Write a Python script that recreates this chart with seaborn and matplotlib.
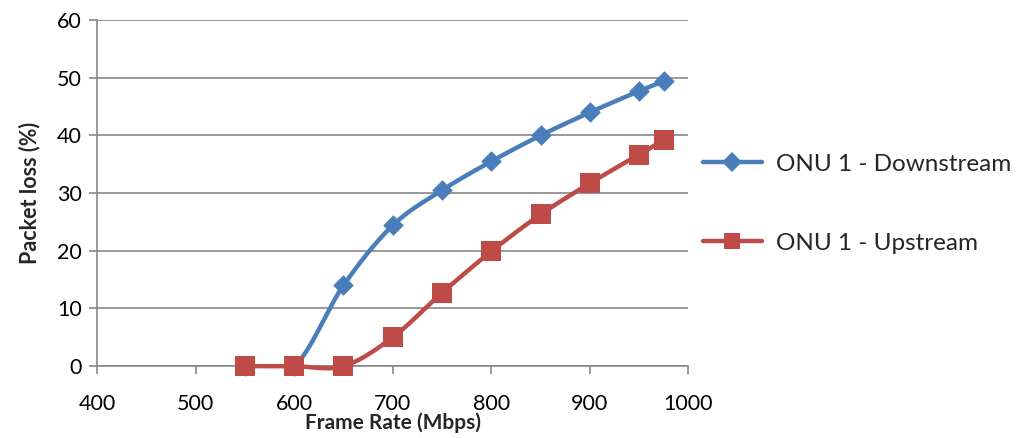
import numpy as np
import pandas as pd
import matplotlib
matplotlib.use("Agg")
import matplotlib.pyplot as plt
from matplotlib.lines import Line2D
import seaborn as sns

frame_rate = [550, 600, 650, 700, 750, 800, 850, 900, 950, 975]
downstream = [0, 0, 14.0, 24.4, 30.5, 35.5, 40.0, 44.0, 47.7, 49.4]
upstream = [0, 0, 0, 5.0, 12.7, 19.9, 26.3, 31.7, 36.7, 39.2]
series_names = ["ONU 1 - Downstream", "ONU 1 - Upstream"]
x_ticks = [400, 500, 600, 700, 800, 900, 1000]
y_ticks = [0, 10, 20, 30, 40, 50, 60]


def smooth(x, y, n=30):
    """Excel-like smoothed line (Bezier through points, Catmull-Rom tangents)."""
    x = np.asarray(x, float)
    y = np.asarray(y, float)
    px = np.concatenate([[x[0]], x, [x[-1]]])
    py = np.concatenate([[y[0]], y, [y[-1]]])
    xs, ys = [], []
    t = np.linspace(0, 1, n)
    for i in range(len(x) - 1):
        p0 = np.array([px[i + 1], py[i + 1]])
        p3 = np.array([px[i + 2], py[i + 2]])
        p1 = p0 + (np.array([px[i + 2], py[i + 2]]) - np.array([px[i], py[i]])) / 6
        p2 = p3 - (np.array([px[i + 3], py[i + 3]]) - np.array([px[i + 1], py[i + 1]])) / 6
        b = ((1 - t) ** 3)[:, None] * p0 + (3 * (1 - t) ** 2 * t)[:, None] * p1 \
            + (3 * (1 - t) * t ** 2)[:, None] * p2 + (t ** 3)[:, None] * p3
        xs.extend(b[:, 0])
        ys.extend(b[:, 1])
    return np.array(xs), np.array(ys)


sns.set_theme(style="white")
plt.rcParams['font.family'] = ['Lato', 'DejaVu Sans']

blue = "#4A7EBB"
red = "#BE4B48"

fig = plt.figure(figsize=(10.32, 4.38), dpi=100)
ax = fig.add_axes([0.094, 0.164, 0.573, 0.790])

for name, vals, col, mk, ms, z in [
    (series_names[0], downstream, blue, "D", 10.5, 3),
    (series_names[1], upstream, red, "s", 14, 5),
]:
    sx, sy = smooth(frame_rate, vals)
    if name == series_names[0]:
        # blue curve visibly starts at 600
        keep = sx >= 600
        sx, sy = sx[keep], sy[keep]
    d = pd.DataFrame({"x": sx, "y": sy})
    sns.lineplot(data=d, x="x", y="y", ax=ax, color=col, linewidth=3.2,
                 sort=False, estimator=None, zorder=z)
    pts = pd.DataFrame({"x": frame_rate, "y": vals})
    sns.scatterplot(data=pts, x="x", y="y", ax=ax, color=col, marker=mk,
                    s=ms ** 2, linewidth=0, zorder=z + 1)
for coll in ax.collections:
    coll.set_clip_on(False)
for ln in ax.lines:
    ln.set_clip_on(False)

ax.set_xlim(400, 1000)
ax.set_ylim(0, 60)
ax.set_xticks(x_ticks)
ax.set_yticks(y_ticks)
ax.yaxis.grid(True, color="#888888", linewidth=1.2)
ax.xaxis.grid(False)
ax.set_axisbelow(True)
for s in ["top", "right"]:
    ax.spines[s].set_visible(False)
for s in ["left", "bottom"]:
    ax.spines[s].set_color("#888888")
    ax.spines[s].set_linewidth(1.2)
    ax.spines[s].set_zorder(0.5)
ax.tick_params(axis="both", which="major", direction="out", length=6,
               width=1.2, color="#888888", labelsize=15.5, labelcolor="black",
               bottom=True, left=True, pad=5)
ax.tick_params(axis="x", pad=14)
ax.set_xlabel("Frame Rate (Mbps)", fontsize=15, fontweight="bold", labelpad=-1)
ax.set_ylabel("Packet loss (%)", fontsize=15.5, fontweight="bold", labelpad=12)

handles = [
    Line2D([0], [0], color=blue, lw=3.2, marker="D", markersize=10, markeredgewidth=0),
    Line2D([0], [0], color=red, lw=3.2, marker="s", markersize=12, markeredgewidth=0),
]
fig.legend(handles, series_names, loc="center left", bbox_to_anchor=(0.672, 0.535),
           frameon=False, fontsize=17.5, handlelength=2.4, labelspacing=2.4,
           handletextpad=0.6, borderaxespad=0.0)

fig.savefig("out.png", dpi=100)
